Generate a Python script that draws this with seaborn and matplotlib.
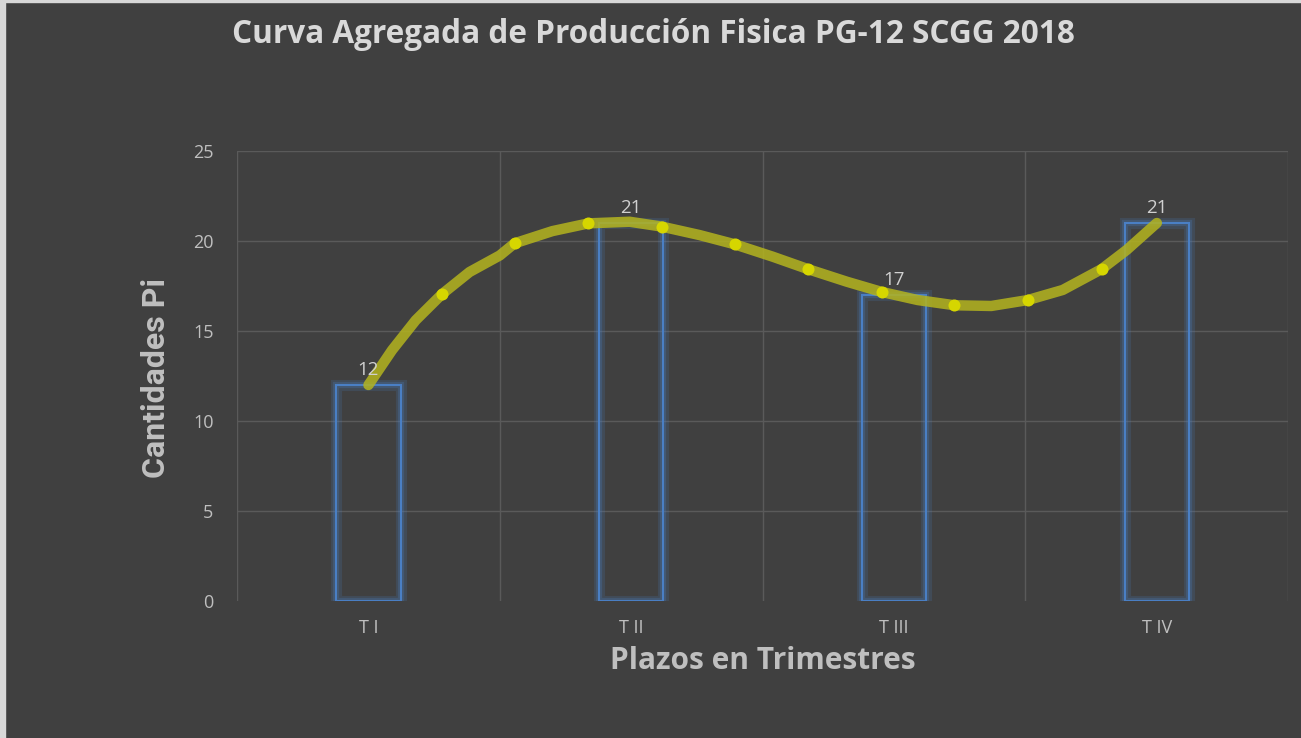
import matplotlib
matplotlib.use("Agg")
import matplotlib.pyplot as plt
import matplotlib.patheffects as pe
from matplotlib.patches import Rectangle
import seaborn as sns

# Data
trimestres = ["T I", "T II", "T III", "T IV"]
cantidades = [12, 21, 17, 21]

# points (x in quarter units)
linea_x = [0, 0.09, 0.18, 0.28, 0.385, 0.5, 0.556, 0.7, 0.837, 0.994, 1.116,
           1.26, 1.393, 1.538, 1.672, 1.82, 1.953, 2.09, 2.23, 2.37, 2.509,
           2.642, 2.79, 2.885, 3.0]
linea_y = [12, 13.94, 15.6, 17.05, 18.28, 19.2, 19.87, 20.55, 20.98, 21.07, 20.8,
           20.33, 19.82, 19.13, 18.44, 17.74, 17.17, 16.72, 16.43, 16.39, 16.72,
           17.28, 18.44, 19.5, 21]

# the bright dots on the curve
puntos_x = [0.28, 0.556, 0.837, 1.116, 1.393, 1.672, 1.953, 2.23, 2.509, 2.79]
puntos_y = [17.05, 19.87, 20.98, 20.8, 19.82, 18.44, 17.17, 16.43, 16.72, 18.44]

bg = "#404040"
txt = "#BFBFBF"
blue = "#4A7FC4"

sns.set_style("dark")
plt.rcParams["font.family"] = ["Open Sans", "DejaVu Sans"]

fig = plt.figure(figsize=(13.01, 7.38), dpi=100, facecolor=bg)
ax = fig.add_axes([0.1822, 0.1856, 0.808, 0.6098])
ax.set_facecolor(bg)

sns.barplot(x=trimestres, y=cantidades, fill=False, color=blue, width=0.245,
            linewidth=1.5, ax=ax, zorder=3)
for p in ax.patches:
    p.set_edgecolor(blue)
    p.set_path_effects([pe.Stroke(linewidth=8, foreground=blue, alpha=0.18),
                        pe.Stroke(linewidth=4.5, foreground=blue, alpha=0.25),
                        pe.Normal()])

sns.lineplot(x=linea_x, y=linea_y, ax=ax, color="#B4B41E", alpha=0.85,
             linewidth=7.5, solid_capstyle="round", solid_joinstyle="round",
             sort=False, zorder=4)
sns.scatterplot(x=puntos_x, y=puntos_y, ax=ax, color="#D6D600", s=75,
                linewidth=0, zorder=5)

for i, v in enumerate(cantidades):
    ax.text(i, v + 0.35, str(v), ha="center", va="bottom", color="#D0D0D0",
            fontsize=13.5, zorder=6)

ax.set_ylim(0, 25)
ax.set_xlim(-0.5, 3.5)
ax.set_yticks([0, 5, 10, 15, 20, 25])
ax.set_xticks(range(4))
ax.set_xticklabels(trimestres)
ax.tick_params(axis="both", colors=txt, labelsize=13, length=0)
ax.tick_params(axis="y", pad=17)
ax.tick_params(axis="x", pad=13)
for s in ax.spines.values():
    s.set_visible(False)

ax.grid(False)
for y in [5, 10, 15, 20, 25]:
    ax.axhline(y, color="#5A5A5A", linewidth=1, zorder=1)
for x in [-0.5, 0.5, 1.5, 2.5, 3.5]:
    ax.axvline(x, color="#5A5A5A", linewidth=1, zorder=1)

ax.set_xlabel("")
ax.set_ylabel("")
fig.text(0.502, 0.953, "Curva Agregada de Producción Fisica PG-12 SCGG 2018",
         ha="center", va="center", color="#D9D9D9", fontsize=22.7,
         fontweight="bold")
fig.text(0.586, 0.105, "Plazos en Trimestres", ha="center", va="center",
         color=txt, fontsize=21.5, fontweight="bold")
fig.text(0.12, 0.488, "Cantidades Pi", ha="center", va="center",
         color=txt, fontsize=23, fontweight="bold", rotation=90,
         family=["Roboto", "DejaVu Sans"])

# light frame at top and left edge
fig.add_artist(Rectangle((0, 0.997), 1, 0.003, transform=fig.transFigure,
                         color="#D8D8D8", zorder=10))
fig.add_artist(Rectangle((0, 0), 0.004, 1, transform=fig.transFigure,
                         color="#D8D8D8", zorder=10))

fig.savefig("out.png", dpi=100, facecolor=bg)
